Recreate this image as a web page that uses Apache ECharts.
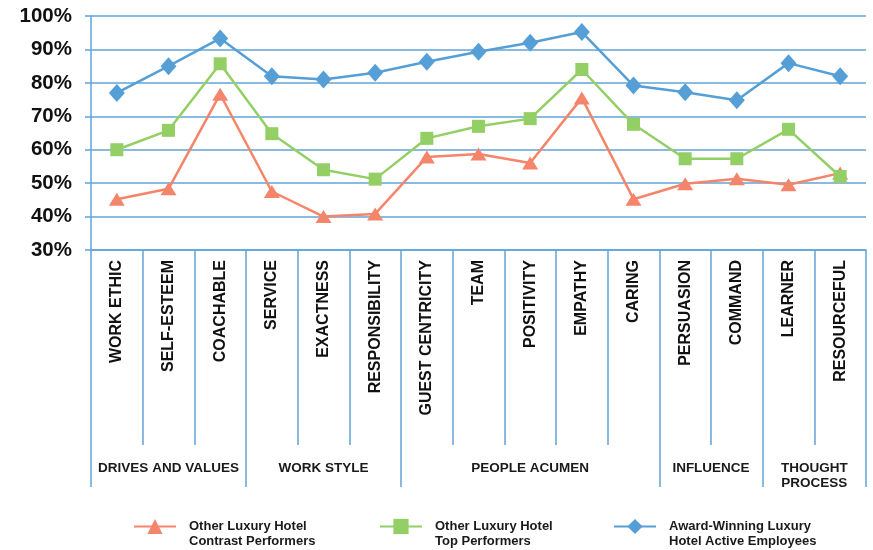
<!DOCTYPE html>
<html>
<head>
<meta charset="utf-8">
<script src="https://cdn.jsdelivr.net/npm/echarts@6/dist/echarts.min.js"></script>
<style>
  html, body { margin: 0; padding: 0; background: #fff; }
  #chart { width: 873px; height: 550px; }
</style>
</head>
<body>
<div id="chart"></div>
<script>
// Competency categories, in order along the axis
const categories = ['WORK ETHIC', 'SELF-ESTEEM', 'COACHABLE', 'SERVICE', 'EXACTNESS',
  'RESPONSIBILITY', 'GUEST CENTRICITY', 'TEAM', 'POSITIVITY', 'EMPATHY', 'CARING',
  'PERSUASION', 'COMMAND', 'LEARNER', 'RESOURCEFUL'];

// Competency groups: label, first and last category index
const groupNames = ['DRIVES AND VALUES', 'WORK STYLE', 'PEOPLE ACUMEN', 'INFLUENCE', 'THOUGHT\nPROCESS'];
const groupStart = [0, 3, 6, 11, 13];
const groupEnd = [2, 5, 10, 12, 14];

// Series names and scores (percent)
const seriesNames = [
  'Other Luxury Hotel\nContrast Performers',
  'Other Luxury Hotel\nTop Performers',
  'Award-Winning Luxury\nHotel Active Employees'
];
const contrastPerformers = [45.2, 48.3, 76.6, 47.5, 40.0, 40.8, 57.8, 58.7, 56.0, 75.5, 45.2, 49.8, 51.3, 49.5, 53.0];
const topPerformers = [60.0, 65.8, 85.7, 64.8, 54.0, 51.2, 63.4, 67.0, 69.3, 84.0, 67.6, 57.3, 57.3, 66.1, 52.0];
const awardWinning = [77.0, 85.0, 93.3, 82.0, 81.0, 83.0, 86.3, 89.3, 92.0, 95.2, 79.2, 77.2, 74.8, 85.9, 82.0];

// Value axis ticks
const yMin = 30, yMax = 100, yStep = 10;

const FONT = '"Liberation Sans", Arial, sans-serif';
const AXIS_BLUE = '#62a3d8';
const ORANGE = '#f4856a';
const GREEN = '#93cf65';
const BLUE = '#559fd6';

const chart = echarts.init(document.getElementById('chart'), null, { renderer: 'canvas' });

// One legend per series so each entry sits at its own spot.
// A leading blank line keeps the swatch level with the first text line.
function legendAt(name, left) {
  return {
    data: [name],
    left: left,
    top: 504,
    padding: 0,
    orient: 'horizontal',
    itemWidth: 42,
    itemHeight: 19,
    itemGap: 0,
    selectedMode: false,
    formatter: function (n) { return '\n' + n; },
    textStyle: {
      fontFamily: FONT, fontWeight: 'bold', fontSize: 13, color: '#1a1a1a',
      lineHeight: 15, padding: [0, 0, 0, 8]
    }
  };
}

const option = {
  animation: false,
  backgroundColor: '#fff',
  grid: { left: 91, right: 7, top: 16, bottom: 300, containLabel: false },
  legend: [
    legendAt(seriesNames[0], 133),
    legendAt(seriesNames[1], 379),
    legendAt(seriesNames[2], 613)
  ],
  xAxis: [
    {
      type: 'category',
      data: categories,
      boundaryGap: true,
      axisLine: { show: true, lineStyle: { color: AXIS_BLUE, width: 1.5 } },
      axisTick: { show: true, length: 195, interval: 0, lineStyle: { color: AXIS_BLUE, width: 1.5 } },
      axisLabel: {
        interval: 0, rotate: 90, margin: 10,
        fontFamily: FONT, fontWeight: 'bold', fontSize: 16, color: '#111'
      },
      splitLine: { show: false }
    },
    {
      // group separators reaching down past the group labels
      type: 'category',
      data: categories,
      position: 'bottom',
      boundaryGap: true,
      axisLine: { show: false },
      axisLabel: { show: false },
      axisTick: {
        show: true, length: 237,
        interval: function (idx) { return groupStart.indexOf(idx) >= 0; },
        lineStyle: { color: AXIS_BLUE, width: 1.5 }
      },
      splitLine: { show: false }
    }
  ],
  yAxis: {
    type: 'value',
    min: yMin, max: yMax, interval: yStep,
    axisLine: { show: true, lineStyle: { color: AXIS_BLUE, width: 1.5 } },
    axisTick: { show: true, length: 6, lineStyle: { color: AXIS_BLUE, width: 1.5 } },
    axisLabel: {
      margin: 19, formatter: '{value}%',
      fontFamily: FONT, fontWeight: 'bold', fontSize: 20.5, color: '#111'
    },
    splitLine: { show: true, lineStyle: { color: AXIS_BLUE, width: 1.5 } }
  },
  series: [
    {
      name: seriesNames[0], type: 'line', data: contrastPerformers,
      symbol: 'triangle', symbolSize: [16, 13],
      lineStyle: { color: ORANGE, width: 2.5 },
      itemStyle: { color: ORANGE }
    },
    {
      name: seriesNames[1], type: 'line', data: topPerformers,
      symbol: 'rect', symbolSize: 13,
      lineStyle: { color: GREEN, width: 2.5 },
      itemStyle: { color: GREEN }
    },
    {
      name: seriesNames[2], type: 'line', data: awardWinning,
      symbol: 'diamond', symbolSize: [16, 18],
      lineStyle: { color: BLUE, width: 2.5 },
      itemStyle: { color: BLUE }
    }
  ]
};

chart.setOption(option);

// Group labels, centred under their category span using the axis scale
const labelTop = chart.convertToPixel({ gridIndex: 0 }, [0, yMin])[1] + 211;
const groupLabels = groupNames.map(function (name, i) {
  const x0 = chart.convertToPixel({ xAxisIndex: 0 }, groupStart[i]);
  const x1 = chart.convertToPixel({ xAxisIndex: 0 }, groupEnd[i]);
  return {
    type: 'text',
    x: (x0 + x1) / 2,
    y: labelTop,
    style: {
      text: name,
      align: 'center',
      verticalAlign: 'top',
      fontFamily: FONT, fontWeight: 'bold', fontSize: 13.5, lineHeight: 15,
      fill: '#1a1a1a'
    }
  };
});
chart.setOption({ graphic: groupLabels });
</script>
</body>
</html>
